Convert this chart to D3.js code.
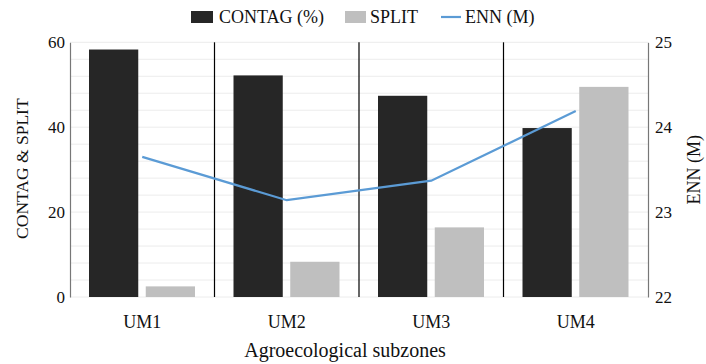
<!DOCTYPE html>
<html>
<head>
<meta charset="utf-8">
<script src="https://cdn.jsdelivr.net/npm/d3@7"></script>
<style>
  body { margin: 0; background: #fff; }
  svg text { font-family: "Liberation Serif", "Times New Roman", Times, "DejaVu Serif", serif; fill: #111; }
</style>
</head>
<body>
<div id="chart"></div>
<script>
var svgWidth = 706;
var svgHeight = 364;

// data
var zones = ["UM1", "UM2", "UM3", "UM4"];
var contag = [58.3, 52.2, 47.4, 39.8];
var split = [2.5, 8.3, 16.4, 49.5];
var enn = [23.65, 23.14, 23.37, 24.19];
var leftTicks = [0, 20, 40, 60];
var rightTicks = [22, 23, 24, 25];

var serif = "'Liberation Serif', 'Times New Roman', Times, serif";

var margin = { top: 42.3, right: 58, bottom: 67, left: 70 };
var chartWidth = svgWidth - margin.left - margin.right;
var chartHeight = svgHeight - margin.top - margin.bottom;

var svg = d3.select("#chart")
    .append("svg")
    .attr("width", svgWidth)
    .attr("height", svgHeight)
    .attr("font-family", serif);

var chartGroup = svg.append("g")
    .attr("transform", `translate(${margin.left}, ${margin.top})`);

var xBand = d3.scaleBand().domain(zones).range([0, chartWidth]);
var xInner = d3.scaleBand().domain(["contag", "split"])
    .range([19, xBand.bandwidth() - 19.5]).paddingInner(0.132);
var yLeft = d3.scaleLinear().domain([0, 60]).range([chartHeight, 0]);
var yRight = d3.scaleLinear().domain([22, 25]).range([chartHeight, 0]);

// light gridlines every 4 units
chartGroup.selectAll(".grid")
    .data(d3.range(0, 61, 4))
    .enter().append("line")
    .attr("x1", 0).attr("x2", chartWidth)
    .attr("y1", d => yLeft(d)).attr("y2", d => yLeft(d))
    .attr("stroke", "#ececec")
    .attr("stroke-width", 1);

// bars
var groups = chartGroup.selectAll(".zone")
    .data(zones)
    .enter().append("g")
    .attr("transform", d => `translate(${xBand(d)},0)`);

groups.append("rect")
    .attr("x", xInner("contag"))
    .attr("width", xInner.bandwidth())
    .attr("y", (d, i) => yLeft(contag[i]))
    .attr("height", (d, i) => chartHeight - yLeft(contag[i]))
    .attr("fill", "#262626");

groups.append("rect")
    .attr("x", xInner("split"))
    .attr("width", xInner.bandwidth())
    .attr("y", (d, i) => yLeft(split[i]))
    .attr("height", (d, i) => chartHeight - yLeft(split[i]))
    .attr("fill", "#bfbfbf");

// separators between zones
chartGroup.selectAll(".sep")
    .data(zones.slice(1))
    .enter().append("line")
    .attr("x1", d => xBand(d)).attr("x2", d => xBand(d))
    .attr("y1", 0).attr("y2", chartHeight)
    .attr("stroke", "#000")
    .attr("stroke-width", 1.2);

// axes
var leftAxis = d3.axisLeft(yLeft).tickValues(leftTicks).tickSize(0).tickPadding(5);
var rightAxis = d3.axisRight(yRight).tickValues(rightTicks).tickFormat(d3.format("d")).tickSize(0).tickPadding(7);
var bottomAxis = d3.axisBottom(xBand).tickSize(0).tickPadding(18);

var gl = chartGroup.append("g").call(leftAxis);
var gr = chartGroup.append("g").attr("transform", `translate(${chartWidth},0)`).call(rightAxis);
var gb = chartGroup.append("g").attr("transform", `translate(0,${chartHeight})`).call(bottomAxis);

[gl, gr, gb].forEach(g => {
    g.attr("font-family", serif);
    g.select(".domain").attr("stroke", "#777").attr("stroke-width", 1.2);
    g.selectAll("text").attr("font-size", 17).attr("fill", "#111");
});
gb.select(".domain").remove();
gb.selectAll("text").attr("font-size", 18);

// ENN line
var line = d3.line()
    .x((d, i) => xBand(zones[i]) + xBand.bandwidth() / 2)
    .y(d => yRight(d));

chartGroup.append("path")
    .datum(enn)
    .attr("d", line)
    .attr("fill", "none")
    .attr("stroke", "#5b9bd5")
    .attr("stroke-width", 2.2);

// axis titles
svg.append("text")
    .attr("x", margin.left + chartWidth / 2 - 14)
    .attr("y", 357)
    .attr("text-anchor", "middle")
    .attr("font-size", 20)
    .text("Agroecological subzones");

svg.append("text")
    .attr("transform", `translate(28,${margin.top + chartHeight / 2 - 1}) rotate(-90)`)
    .attr("text-anchor", "middle")
    .attr("font-size", 17.5)
    .text("CONTAG & SPLIT");

svg.append("text")
    .attr("transform", `translate(700,${margin.top + chartHeight / 2}) rotate(-90)`)
    .attr("text-anchor", "middle")
    .attr("font-size", 18)
    .text("ENN (M)");

// legend
var legend = svg.append("g").attr("font-size", 18);
legend.append("rect").attr("x", 191).attr("y", 11).attr("width", 22).attr("height", 12).attr("fill", "#262626");
legend.append("text").attr("x", 219).attr("y", 23).text("CONTAG (%)");
legend.append("rect").attr("x", 345).attr("y", 11).attr("width", 21).attr("height", 12).attr("fill", "#bfbfbf");
legend.append("text").attr("x", 370).attr("y", 23).text("SPLIT");
legend.append("line").attr("x1", 441).attr("x2", 461).attr("y1", 17).attr("y2", 17)
    .attr("stroke", "#5b9bd5").attr("stroke-width", 2.2);
legend.append("text").attr("x", 465).attr("y", 23).text("ENN (M)");
</script>
</body>
</html>
